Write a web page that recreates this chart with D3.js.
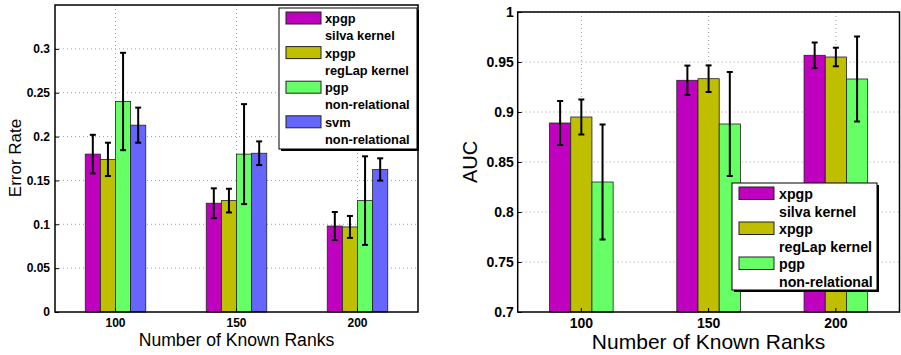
<!DOCTYPE html>
<html>
<head>
<meta charset="utf-8">
<style>
    html, body { margin: 0; padding: 0; background: #fff; }
    svg { display: block; font-family: "Liberation Sans", Arial, sans-serif; }
    .tick-label { font-weight: bold; fill: #000; }
    .grid line { stroke: #a0a0a0; stroke-dasharray: 1,3; stroke-width: 1; }
    .leg-text { font-weight: bold; fill: #000; }
</style>
</head>
<body>
<svg width="901" height="355"></svg>
<script src="https://d3js.org/d3.v7.min.js"></script>
<script>
// categories
var ranks = [100, 150, 200];
var seriesNames = ["xpgp", "xpgp", "pgp", "svm"];
var seriesNotes = ["silva kernel", "regLap kernel", "non-relational", "non-relational"];
var seriesColors = ["#bf00bf", "#bfbf00", "#66ff66", "#6666ff"];

// left panel: error rate (mean, half error bar) per rank
var errSilva = [0.180, 0.124, 0.098];
var errSilvaSd = [0.022, 0.017, 0.016];
var errRegLap = [0.174, 0.127, 0.097];
var errRegLapSd = [0.019, 0.0135, 0.0125];
var errPgp = [0.240, 0.180, 0.127];
var errPgpSd = [0.0555, 0.057, 0.0505];
var errSvm = [0.213, 0.181, 0.1625];
var errSvmSd = [0.020, 0.0135, 0.0127];
var errTicks = [0, 0.05, 0.1, 0.15, 0.2, 0.25, 0.3];
var errTickLabels = ["0", "0.05", "0.1", "0.15", "0.2", "0.25", "0.3"];

// right panel: AUC
var aucSilva = [0.889, 0.9317, 0.9567];
var aucSilvaSd = [0.022, 0.0147, 0.0128];
var aucRegLap = [0.895, 0.9333, 0.955];
var aucRegLapSd = [0.0175, 0.0133, 0.0093];
var aucPgp = [0.830, 0.888, 0.933];
var aucPgpSd = [0.0575, 0.052, 0.0425];
var aucTicks = [0.7, 0.75, 0.8, 0.85, 0.9, 0.95, 1];
var aucTickLabels = ["0.7", "0.75", "0.8", "0.85", "0.9", "0.95", "1"];

var svg = d3.select("svg");

function drawPanel(p) {
    var x = d3.scaleBand().domain(ranks).range([p.left, p.right]).padding(0);
    var y = d3.scaleLinear().domain(p.domain).range([p.bottom, p.top]);
    var inner = d3.scaleBand().domain(d3.range(p.means.length))
        .range([0, x.bandwidth() * 0.5]);
    var off = (x.bandwidth() - x.bandwidth() * 0.5) / 2;
    var g = svg.append("g");

    // grid
    var grid = g.append("g").attr("class", "grid");
    grid.selectAll(".hg").data(p.ticks.slice(1)).enter().append("line")
        .attr("x1", p.left).attr("x2", p.right)
        .attr("y1", function(d) { return y(d); }).attr("y2", function(d) { return y(d); });
    grid.selectAll(".vg").data(ranks).enter().append("line")
        .attr("x1", function(d) { return x(d) + x.bandwidth() / 2; })
        .attr("x2", function(d) { return x(d) + x.bandwidth() / 2; })
        .attr("y1", p.top).attr("y2", p.bottom);

    // bars
    p.means.forEach(function(vals, si) {
        var sg = g.append("g");
        sg.selectAll("rect").data(vals).enter().append("rect")
            .attr("x", function(d, i) { return x(ranks[i]) + off + inner(si); })
            .attr("width", inner.bandwidth())
            .attr("y", function(d) { return y(d); })
            .attr("height", function(d) { return p.bottom - y(d); })
            .attr("fill", seriesColors[si])
            .attr("stroke", "#222")
            .attr("stroke-width", 0.8);
    });

    // error bars
    p.means.forEach(function(vals, si) {
        var eg = g.append("g").attr("stroke", "#000").attr("stroke-width", 2);
        vals.forEach(function(v, i) {
            var cx = x(ranks[i]) + off + inner(si) + inner.bandwidth() / 2;
            var hi = y(v + p.sds[si][i]), lo = y(v - p.sds[si][i]);
            eg.append("line").attr("x1", cx).attr("x2", cx).attr("y1", hi).attr("y2", lo);
            eg.append("line").attr("x1", cx - 3).attr("x2", cx + 3).attr("y1", hi).attr("y2", hi);
            eg.append("line").attr("x1", cx - 3).attr("x2", cx + 3).attr("y1", lo).attr("y2", lo);
        });
    });

    // box
    g.append("rect").attr("x", p.left).attr("y", p.top)
        .attr("width", p.right - p.left).attr("height", p.bottom - p.top)
        .attr("fill", "none").attr("stroke", "#000").attr("stroke-width", 1.5);

    // axes
    var ax = g.append("g").attr("transform", "translate(0," + p.bottom + ")")
        .call(d3.axisBottom(x).tickSizeInner(-4).tickSizeOuter(0).tickPadding(p.xPad));
    ax.select(".domain").remove();
    ax.selectAll("text").attr("class", "tick-label").style("font-size", p.tickSize + "px");
    ax.selectAll("line").attr("stroke", "#000");

    var ay = g.append("g").attr("transform", "translate(" + p.left + ",0)")
        .call(d3.axisLeft(y).tickValues(p.ticks).tickSizeInner(-4).tickSizeOuter(0).tickPadding(p.yPad)
            .tickFormat(function(d, i) { return p.tickLabels[i]; }));
    ay.select(".domain").remove();
    ay.selectAll("text").attr("class", "tick-label").style("font-size", p.tickSize + "px");
    ay.selectAll("line").attr("stroke", "#000");

    // labels
    g.append("text").attr("x", (p.left + p.right) / 2).attr("y", p.xLabelY)
        .attr("text-anchor", "middle").style("font-size", p.labelSize + "px")
        .text("Number of Known Ranks");
    g.append("text")
        .attr("transform", "translate(" + p.yLabelX + "," + p.yLabelY + ") rotate(-90)")
        .attr("text-anchor", "middle").style("font-size", p.yLabelSize + "px")
        .text(p.yLabel);

    // legend
    var L = p.legend;
    var lg = g.append("g").attr("transform", "translate(" + L.x + "," + L.y + ")");
    lg.append("rect").attr("x", 2).attr("y", 2).attr("width", L.w).attr("height", L.h).attr("fill", "#000");
    lg.append("rect").attr("width", L.w).attr("height", L.h)
        .attr("fill", "#fff").attr("stroke", "#000").attr("stroke-width", 1);
    p.means.forEach(function(vals, si) {
        var ey = L.pad + si * L.step;
        lg.append("rect").attr("x", L.sx).attr("y", ey)
            .attr("width", L.sw).attr("height", L.sh)
            .attr("fill", seriesColors[si]).attr("stroke", "#222").attr("stroke-width", 1);
        lg.append("text").attr("class", "leg-text").attr("x", L.tx).attr("y", ey + L.b1)
            .style("font-size", L.fs + "px").text(seriesNames[si]);
        lg.append("text").attr("class", "leg-text").attr("x", L.tx).attr("y", ey + L.b2)
            .style("font-size", L.fs + "px").text(seriesNotes[si]);
    });
}

drawPanel({
    left: 55, right: 418, top: 5, bottom: 312,
    domain: [0, 0.35],
    ticks: errTicks, tickLabels: errTickLabels,
    tickSize: 12, xPad: 6, yPad: 5,
    means: [errSilva, errRegLap, errPgp, errSvm],
    sds: [errSilvaSd, errRegLapSd, errPgpSd, errSvmSd],
    xLabelY: 345.5, labelSize: 17.6,
    yLabel: "Error Rate", yLabelX: 20.5, yLabelY: 158, yLabelSize: 17,
    legend: { x: 279, y: 8, w: 138, h: 141, pad: 4, step: 34.6, sx: 7, sw: 35, sh: 12,
              tx: 46, b1: 11, b2: 28, fs: 12.8 }
});

drawPanel({
    left: 517.7, right: 899.5, top: 12, bottom: 312,
    domain: [0.7, 1],
    ticks: aucTicks, tickLabels: aucTickLabels,
    tickSize: 14, xPad: 6, yPad: 4,
    means: [aucSilva, aucRegLap, aucPgp],
    sds: [aucSilvaSd, aucRegLapSd, aucPgpSd],
    xLabelY: 349, labelSize: 21,
    yLabel: "AUC", yLabelX: 477, yLabelY: 162, yLabelSize: 20,
    legend: { x: 732, y: 183, w: 145, h: 107, pad: 4, step: 35, sx: 7, sw: 35, sh: 12.5,
              tx: 47, b1: 12, b2: 30, fs: 14.2 }
});
</script>
</body>
</html>
